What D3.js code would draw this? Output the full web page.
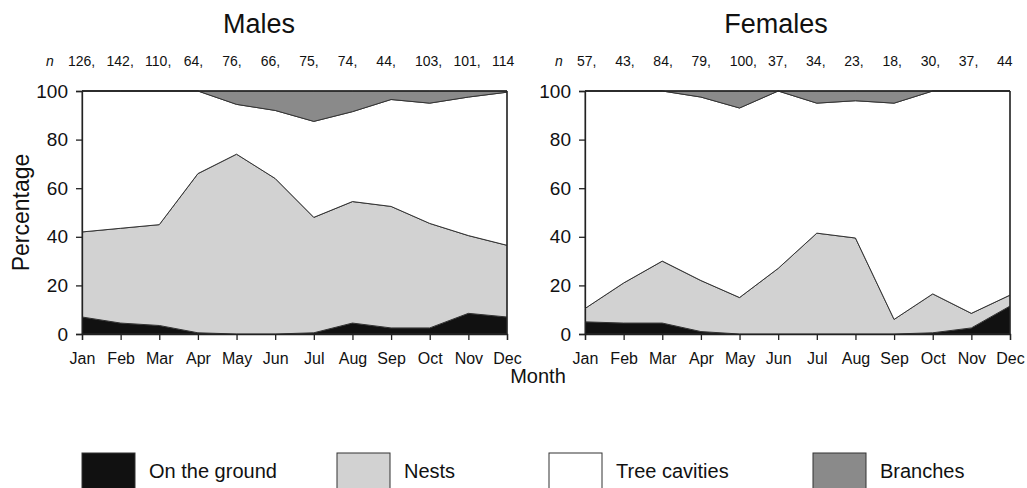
<!DOCTYPE html>
<html>
<head>
<meta charset="utf-8">
<script src="https://cdn.jsdelivr.net/npm/d3@7"></script>
<style>
  body { margin: 0; background: #fff; }
  svg { font-family: "Liberation Sans", Arial, sans-serif; }
</style>
</head>
<body>
<script>
// months and sample sizes
var months = ["Jan", "Feb", "Mar", "Apr", "May", "Jun", "Jul", "Aug", "Sep", "Oct", "Nov", "Dec"];
var malesN = [126, 142, 110, 64, 76, 66, 75, 74, 44, 103, 101, 114];
var femalesN = [57, 43, 84, 79, 100, 37, 34, 23, 18, 30, 37, 44];

// percentage per roost type
var malesGround   = [7, 4.5, 3.5, 0.5, 0, 0, 0.5, 4.5, 2.5, 2.5, 8.5, 7];
var malesNests    = [35, 39, 41.5, 65.5, 74, 64, 47.5, 50, 50, 43, 32, 29.5];
var malesBranches = [0, 0, 0, 0, 5.5, 8, 12.5, 8.5, 3.5, 5, 2.5, 0.5];

var femalesGround   = [5, 4.5, 4.5, 1, 0, 0, 0, 0, 0, 0.5, 2.5, 11.5];
var femalesNests    = [5.5, 16.5, 25.5, 21, 15, 27, 41.5, 39.5, 6, 16, 6, 4.5];
var femalesBranches = [0, 0, 0, 2.5, 7, 0, 5, 4, 5, 0, 0, 0];

var keys = ["ground", "nests", "cavities", "branches"];
var legendLabels = ["On the ground", "Nests", "Tree cavities", "Branches"];
var yTicks = [0, 20, 40, 60, 80, 100];

var colors = { ground: "#111", nests: "#d2d2d2", cavities: "#fff", branches: "#8a8a8a" };

var svg = d3.select("body").append("svg")
  .attr("width", 1027)
  .attr("height", 488);

function buildRows(ground, nests, branches) {
  return months.map(function(m, i) {
    return {
      month: m,
      ground: ground[i],
      nests: nests[i],
      branches: branches[i],
      cavities: 100 - ground[i] - nests[i] - branches[i]
    };
  });
}

// opts: plot left/right, title x, n-row start/end
function drawPanel(opts, title, nValues, rows, showYTitle) {
  var left = opts.left, right = opts.right;
  var top = 91, bottom = 334;
  var x = d3.scalePoint().domain(months).range([left, right]);
  var y = d3.scaleLinear().domain([0, 100]).range([bottom, top]);

  var series = d3.stack().keys(keys)(rows);

  var area = d3.area()
    .x(function(d) { return x(d.data.month); })
    .y0(function(d) { return y(d[0]); })
    .y1(function(d) { return y(d[1]); });

  var g = svg.append("g");

  g.selectAll("path.layer")
    .data(series)
    .enter()
    .append("path")
    .attr("class", "layer")
    .attr("d", area)
    .attr("fill", function(d) { return colors[d.key]; })
    .attr("stroke", "#333")
    .attr("stroke-width", 1);

  // frame: top and right edges
  g.append("line")
    .attr("x1", left).attr("x2", right)
    .attr("y1", y(100)).attr("y2", y(100))
    .attr("stroke", "#222").attr("stroke-width", 1.3);
  g.append("line")
    .attr("x1", right).attr("x2", right)
    .attr("y1", y(100)).attr("y2", y(0))
    .attr("stroke", "#222").attr("stroke-width", 1.3);

  // axes
  var xAxis = g.append("g")
    .attr("transform", "translate(0," + bottom + ")")
    .call(d3.axisBottom(x).tickSizeOuter(0).tickSize(6).tickPadding(13));
  xAxis.selectAll("text").style("font-size", "16px").attr("fill", "#111");

  var yAxis = g.append("g")
    .attr("transform", "translate(" + left + ",0)")
    .call(d3.axisLeft(y).tickValues(yTicks).tickSizeOuter(0).tickSize(6).tickPadding(8));
  yAxis.selectAll("text").style("font-size", "19px").attr("fill", "#111");

  g.selectAll(".domain").attr("stroke", "#222").attr("stroke-width", 1.3);
  g.selectAll(".tick line").attr("stroke", "#222").attr("stroke-width", 1.3);

  // title
  g.append("text")
    .attr("x", opts.titleX)
    .attr("y", 33)
    .attr("text-anchor", "middle")
    .style("font-size", "27px")
    .attr("fill", "#111")
    .text(title);

  // sample sizes
  var nx = d3.scalePoint().domain(d3.range(nValues.length)).range([opts.nStart, opts.nEnd]);
  g.append("text")
    .attr("x", opts.nStart - 22)
    .attr("y", 66)
    .style("font-size", "14px")
    .style("font-style", "italic")
    .attr("fill", "#111")
    .text("n");
  g.selectAll("text.n")
    .data(nValues)
    .enter()
    .append("text")
    .attr("class", "n")
    .attr("x", function(d, i) { return nx(i); })
    .attr("y", 66)
    .style("font-size", "14px")
    .attr("fill", "#111")
    .text(function(d, i) { return i < nValues.length - 1 ? d + "," : d; });

  if (showYTitle) {
    g.append("text")
      .attr("transform", "translate(29," + ((top + bottom) / 2) + ") rotate(-90)")
      .attr("text-anchor", "middle")
      .style("font-size", "23px")
      .attr("fill", "#111")
      .text("Percentage");
  }
}

drawPanel({ left: 82, right: 507, titleX: 259, nStart: 68, nEnd: 492 },
  "Males", malesN, buildRows(malesGround, malesNests, malesBranches), true);
drawPanel({ left: 585, right: 1010, titleX: 776, nStart: 577, nEnd: 997 },
  "Females", femalesN, buildRows(femalesGround, femalesNests, femalesBranches), false);

// x axis title
svg.append("text")
  .attr("x", 538)
  .attr("y", 383)
  .attr("text-anchor", "middle")
  .style("font-size", "20px")
  .attr("fill", "#111")
  .text("Month");

// legend
var legendX = [82, 337, 549, 813];
var legend = svg.selectAll("g.legend")
  .data(keys)
  .enter()
  .append("g")
  .attr("class", "legend")
  .attr("transform", function(d, i) { return "translate(" + legendX[i] + ",453)"; });

legend.append("rect")
  .attr("width", 53)
  .attr("height", 40)
  .attr("fill", function(d) { return colors[d]; })
  .attr("stroke", "#333")
  .attr("stroke-width", 1);

legend.append("text")
  .attr("x", 67)
  .attr("y", 25)
  .style("font-size", "20px")
  .attr("fill", "#111")
  .text(function(d, i) { return legendLabels[i]; });
</script>
</body>
</html>
